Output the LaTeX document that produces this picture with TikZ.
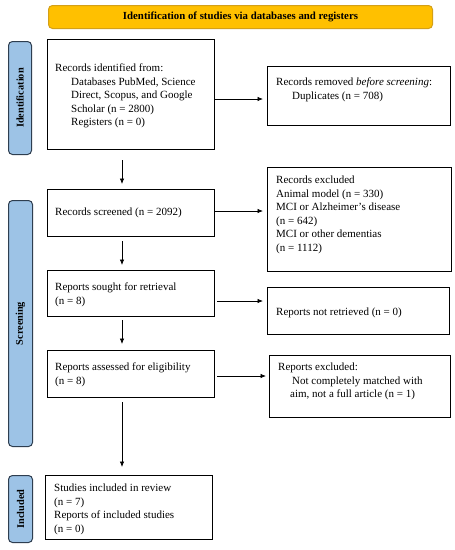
\documentclass[tikz,border=0pt]{standalone}
\usepackage{fontspec}
\setmainfont{Liberation Serif}
\usetikzlibrary{arrows.meta}
\definecolor{bannerfill}{HTML}{FFC000}
\definecolor{bannerline}{HTML}{D4A017}
\definecolor{sidefill}{HTML}{9DC3E6}
\definecolor{sideline}{HTML}{2E3E50}
\newcommand{\lines}[1]{\begin{tabular}[t]{@{}l@{}}#1\end{tabular}}
\newcommand{\ind}{\hspace*{16pt}}
\tikzset{
  box/.style={draw=black, line width=0.9pt, anchor=north west, inner sep=0pt},
  txt/.style={anchor=base west, inner sep=0pt, font=\fontsize{11}{13.6}\selectfont},
  side/.style={draw=sideline, line width=1pt, fill=sidefill, rounded corners=4pt, anchor=north west, inner sep=0pt},
  sidetxt/.style={rotate=90, font=\fontsize{10.3}{12}\selectfont\bfseries, inner sep=0pt},
  arr/.style={line width=0.7pt, -{Latex[length=5.5pt,width=4.5pt]}},
}
\begin{document}
\begin{tikzpicture}[x=1pt,y=-1pt]
\useasboundingbox (0,0) rectangle (455,550);
\fill[white] (0,0) rectangle (455,550);

% banner
\node[draw=bannerline, line width=1pt, fill=bannerfill, rounded corners=4pt, minimum width=384pt, minimum height=23pt, inner sep=0pt, anchor=north west,
  font=\fontsize{10.8}{12}\selectfont\bfseries] (banner) at (48,5) {Identification of studies via databases and registers};

% side bars
\node[side, minimum width=23pt, minimum height=113pt] (sident) at (8,41) {};
\node[sidetxt] (tident) at (sident.center) {Identification};
\node[side, minimum width=24pt, minimum height=246pt] (sscreen) at (8,200) {};
\node[sidetxt] (tscreen) at (sscreen.center) {Screening};
\node[side, minimum width=24pt, minimum height=67pt] (sincl) at (8,475) {};
\node[sidetxt] (tincl) at (sincl.center) {Included};

% boxes
\node[box, minimum width=167pt, minimum height=110pt] (b1) at (47,39) {};
\node[box, minimum width=183pt, minimum height=59pt] (b2) at (267,66) {};
\node[box, minimum width=167pt, minimum height=47pt] (b3) at (47,189) {};
\node[box, minimum width=184pt, minimum height=104pt] (b4) at (267,167) {};
\node[box, minimum width=167pt, minimum height=46pt] (b5) at (47,270) {};
\node[box, minimum width=182pt, minimum height=47pt] (b6) at (267,287) {};
\node[box, minimum width=167pt, minimum height=47pt] (b7) at (47,350) {};
\node[box, minimum width=181pt, minimum height=62pt] (b8) at (269,355) {};
\node[box, minimum width=167pt, minimum height=64pt] (b9) at (45,475) {};

% texts
\node[txt] (t1) at (55,71.5) {\lines{Records identified from:\\ \ind Databases PubMed, Science\\ \ind Direct, Scopus, and Google\\ \ind Scholar (n = 2800)\\ \ind Registers (n = 0)}};
\node[txt] (t2) at (276,85.5) {\lines{Records removed \textit{before screening}:\\ \ind Duplicates (n = 708)}};
\node[txt] (t3) at (55,215.5) {Records screened (n = 2092)};
\node[txt] (t4) at (276,183.5) {\lines{Records excluded\\ Animal model (n = 330)\\ MCI or Alzheimer's disease\\ (n = 642)\\ MCI or other dementias\\ (n = 1112)}};
\node[txt] (t5) at (55,290.5) {\lines{Reports sought for retrieval\\ (n = 8)}};
\node[txt] (t6) at (276,315.5) {Reports not retrieved (n = 0)};
\node[txt] (t7) at (55,370.5) {\lines{Reports assessed for eligibility\\ (n = 8)}};
\node[txt] (t8) at (278,370.5) {\lines{Reports excluded:\\ \hspace*{14pt}Not completely matched with\\ \hspace*{12pt}aim, not a full article (n = 1)}};
\node[txt] (t9) at (54,491.5) {\lines{Studies included in review\\ (n = 7)\\ Reports of included studies\\ (n = 0)}};

% horizontal arrows
\coordinate (h1) at (214,99);
\coordinate (h2) at (214,211);
\coordinate (h3) at (214,301);
\coordinate (h4) at (214,376);
\draw[arr, shorten <=1pt, shorten >=4pt] (h1) -- (h1 -| b2.west);
\draw[arr, shorten <=1pt, shorten >=4pt] (h2) -- (h2 -| b4.west);
\draw[arr, shorten <=3pt, shorten >=4pt] (h3) -- (h3 -| b6.west);
\draw[arr, shorten <=3pt, shorten >=3pt] (h4) -- (h4 -| b8.west);

% vertical arrows
\coordinate (v1) at (122,160);
\coordinate (v2) at (122,241);
\coordinate (v3) at (122,320);
\coordinate (v4) at (122,402);
\draw[arr, shorten >=5pt] (v1) -- (v1 |- b3.north);
\draw[arr, shorten >=5pt] (v2) -- (v2 |- b5.north);
\draw[arr, shorten >=6pt] (v3) -- (v3 |- b7.north);
\draw[arr, shorten >=8pt] (v4) -- (v4 |- b9.north);
\end{tikzpicture}
\end{document}
